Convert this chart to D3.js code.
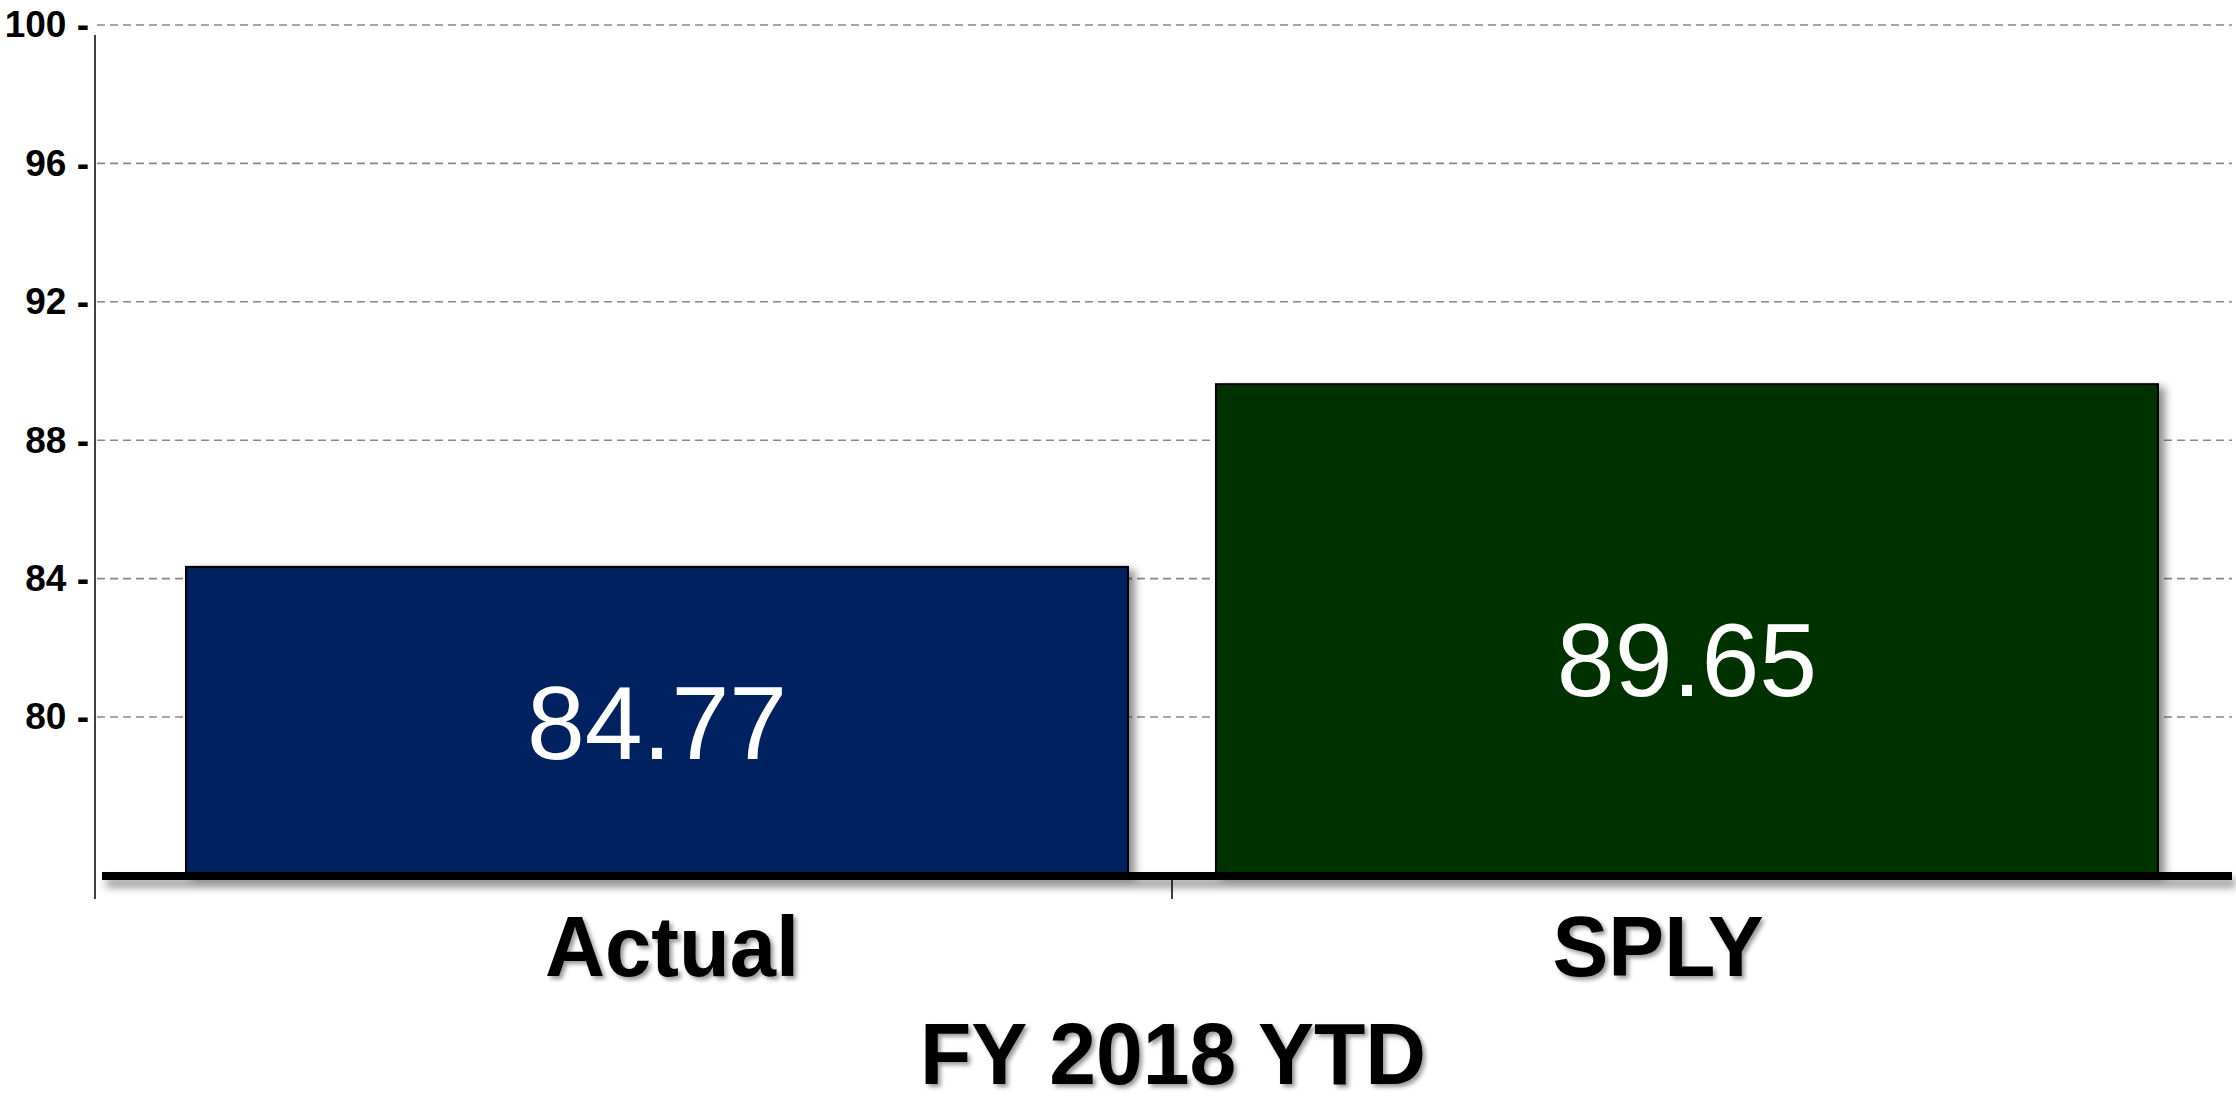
<!DOCTYPE html>
<html>
<head>
<meta charset="utf-8">
<script src="https://cdn.jsdelivr.net/npm/d3@7"></script>
<style>
  body { margin: 0; background: #fff; }
  svg { display: block; font-family: "Liberation Sans", Arial, sans-serif; }
</style>
</head>
<body>
<svg id="drawspace" width="2236" height="1103"></svg>
<script>
// data
let categories = ["Actual", "SPLY"];
let barValues = [84.34, 89.62];        // where the bar tops sit
let valueLabels = ["84.77", "89.65"];  // printed in the bars
let barColors = ["#002060", "#003300"];
let yTicks = [80, 84, 88, 92, 96, 100];
let xTitle = "FY 2018 YTD";

let drawSpace = d3.select("#drawspace");
let W = 2236, H = 1103;

let y = d3.scaleLinear().domain([75.45, 100]).range([874.5, 25]);
let x = d3.scaleBand().domain(categories).range([186, 2158])
  .paddingInner(0.0854).paddingOuter(0);

// layout bits for labels
let valueLabelAt = [78.8, 80.6];
let catShift = [15, -29];
let catWidth = [254, 211];

let defs = drawSpace.append("defs");
let fBar = defs.append("filter").attr("id", "barShadow")
  .attr("x", "-5%").attr("y", "-5%").attr("width", "115%").attr("height", "115%");
fBar.append("feDropShadow").attr("dx", 6).attr("dy", 4)
  .attr("stdDeviation", 4).attr("flood-color", "#000").attr("flood-opacity", 0.45);
let fTxt = defs.append("filter").attr("id", "txtShadow")
  .attr("x", "-10%").attr("y", "-20%").attr("width", "130%").attr("height", "150%");
fTxt.append("feDropShadow").attr("dx", 3).attr("dy", 3)
  .attr("stdDeviation", 2).attr("flood-color", "#000").attr("flood-opacity", 0.4);
let fLine = defs.append("filter").attr("id", "lineShadow")
  .attr("x", "-2%").attr("y", "-200%").attr("width", "104%").attr("height", "600%");
fLine.append("feDropShadow").attr("dx", 4).attr("dy", 7)
  .attr("stdDeviation", 4).attr("flood-color", "#000").attr("flood-opacity", 0.45);

// grid
drawSpace.append("g")
  .selectAll("line")
  .data(yTicks)
  .enter()
  .append("line")
  .attr("x1", 97).attr("x2", 2232)
  .attr("y1", d => y(d)).attr("y2", d => y(d))
  .attr("stroke", "#888")
  .attr("stroke-width", 1.6)
  .attr("stroke-dasharray", "8,5");

// y axis, tick text like "96 -"
let yAxis = drawSpace.append("g")
  .attr("transform", "translate(95,0)")
  .attr("font-size", null)
  .call(d3.axisLeft(y).tickValues(yTicks).tickSize(0).tickPadding(6)
    .tickFormat(d => d + " -"));
yAxis.attr("font-size", "36px").attr("font-family", null);
yAxis.select(".domain").remove();
yAxis.selectAll("text")
  .style("font-family", "'Liberation Sans', Arial, sans-serif")
  .style("font-size", "37px")
  .style("font-weight", "bold")
  .attr("fill", "#000");

drawSpace.append("line")
  .attr("x1", 95).attr("x2", 95).attr("y1", 35).attr("y2", 899)
  .attr("stroke", "#000").attr("stroke-width", 1.5);

// divider tick between the bars
drawSpace.append("line")
  .attr("x1", x("SPLY") - x.step() * x.paddingInner() / 2)
  .attr("x2", x("SPLY") - x.step() * x.paddingInner() / 2)
  .attr("y1", 876).attr("y2", 899)
  .attr("stroke", "#000").attr("stroke-width", 1.5);

// bars
drawSpace.append("g")
  .selectAll("rect")
  .data(categories)
  .enter()
  .append("rect")
  .attr("x", d => x(d))
  .attr("width", x.bandwidth())
  .attr("y", (d, i) => y(barValues[i]))
  .attr("height", (d, i) => y.range()[0] - y(barValues[i]))
  .attr("fill", (d, i) => barColors[i])
  .attr("stroke", "#000")
  .attr("stroke-width", 2)
  .attr("filter", "url(#barShadow)");

// base line
drawSpace.append("rect")
  .attr("x", 102).attr("width", 2130)
  .attr("y", 872).attr("height", 8)
  .attr("fill", "#000")
  .attr("filter", "url(#lineShadow)");

// value labels
drawSpace.append("g")
  .selectAll("text")
  .data(valueLabels)
  .enter()
  .append("text")
  .attr("x", (d, i) => x(categories[i]) + x.bandwidth() / 2)
  .attr("y", (d, i) => y(valueLabelAt[i]))
  .attr("text-anchor", "middle")
  .attr("font-size", 104)
  .attr("fill", "#fff")
  .text(d => d);

// category labels
drawSpace.append("g")
  .selectAll("text")
  .data(categories)
  .enter()
  .append("text")
  .attr("x", (d, i) => x(d) + x.bandwidth() / 2 + catShift[i] - catWidth[i] / 2)
  .attr("y", 976)
  .attr("textLength", (d, i) => catWidth[i])
  .attr("lengthAdjust", "spacingAndGlyphs")
  .attr("font-size", 86)
  .attr("font-weight", "bold")
  .attr("fill", "#000")
  .attr("filter", "url(#txtShadow)")
  .text(d => d);

// axis title
drawSpace.append("text")
  .attr("x", 920)
  .attr("y", 1084)
  .attr("textLength", 506)
  .attr("lengthAdjust", "spacingAndGlyphs")
  .attr("font-size", 88)
  .attr("font-weight", "bold")
  .attr("fill", "#000")
  .attr("filter", "url(#txtShadow)")
  .text(xTitle);
</script>
</body>
</html>
